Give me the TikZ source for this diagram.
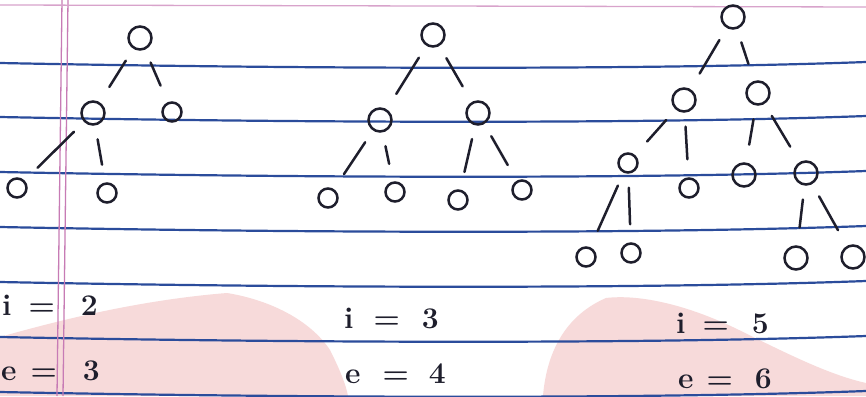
\documentclass[tikz,border=0pt]{standalone}
\usepackage{tikz}
\usetikzlibrary{calc}

\definecolor{ink}{HTML}{1E1E2C}
\definecolor{rule}{HTML}{2B4C9B}
\definecolor{margin}{HTML}{C77BB5}
\definecolor{blush}{HTML}{F7DADA}

\begin{document}
\begin{tikzpicture}[x=1pt,y=-1pt,
  nd/.style={draw=ink, circle, line width=2.5pt, minimum size=23pt, inner sep=0pt},
  lf/.style={nd, minimum size=19pt},
  edge/.style={draw=ink, line width=2.5pt, line cap=round, shorten <=14pt, shorten >=18pt},
  lbl/.style={text=ink, font=\fontsize{30}{30}\selectfont\bfseries, anchor=base west, inner sep=0pt}]
  \useasboundingbox (0,0) rectangle (866,396);
  \fill[white] (0,0) rectangle (866,396);

  \fill[blush] (0,396) -- (0,337) .. controls (60,320) and (140,300) .. (227,293)
    .. controls (270,300) and (310,320) .. (330,350) .. controls (340,370) and (346,385) .. (348,396) -- cycle;
  \fill[blush] (543,396) .. controls (546,360) and (560,318) .. (606,298)
    .. controls (640,294) and (690,305) .. (745,333) .. controls (790,355) and (830,375) .. (866,383) -- (866,396) -- cycle;

  \foreach \y in {63,117,172,227,282,337,392}
    \draw[rule, line width=2.2pt] (0,\y) .. controls (300,\y+6) and (650,\y+7) .. (866,\y-1);
  \draw[margin, line width=1.3pt] (62,0) -- (57,396);
  \draw[margin, line width=1.3pt] (68,0) -- (63,396);
  \draw[margin!70, line width=1.3pt] (0,5) -- (866,7);

  \node[nd] (a) at (140,38) {};
  \node[nd] (a1) at (93,113) {};
  \node[lf] (a2) at (172,112) {};
  \node[lf] (a11) at (17,188) {};
  \node[lf] (a12) at (107,193) {};
  \foreach \p/\c in {a/a1,a/a2,a1/a11,a1/a12}
    \draw[edge] (\p) -- (\c);

  \node[nd] (b) at (433,35) {};
  \node[nd] (b1) at (380,120) {};
  \node[nd] (b2) at (478,113) {};
  \node[lf] (b11) at (328,198) {};
  \node[lf] (b12) at (395,192) {};
  \node[lf] (b21) at (458,200) {};
  \node[lf] (b22) at (522,190) {};
  \foreach \p/\c in {b/b1,b/b2,b1/b11,b1/b12,b2/b21,b2/b22}
    \draw[edge] (\p) -- (\c);

  \node[nd] (c) at (733,17) {};
  \node[nd] (c1) at (684,100) {};
  \node[nd] (c2) at (758,93) {};
  \node[lf] (c11) at (628,163) {};
  \node[lf] (c12) at (689,188) {};
  \node[nd] (c21) at (744,175) {};
  \node[nd] (c22) at (806,173) {};
  \node[lf] (c111) at (586,257) {};
  \node[lf] (c112) at (631,253) {};
  \node[nd] (c221) at (796,258) {};
  \node[nd] (c222) at (853,257) {};
  \foreach \p/\c in {c/c1,c/c2,c1/c11,c1/c12,c2/c21,c2/c22,c11/c111,c11/c112,c22/c221,c22/c222}
    \draw[edge] (\p) -- (\c);

  \node[lbl] (i1) at (2,315) {i\hspace{17pt}=\hspace{26pt}2};
  \node[lbl] (e1) at (1,380) {e\hspace{14pt}=\hspace{26pt}3};
  \node[lbl] (i2) at (344,328) {i\hspace{20pt}=\hspace{22pt}3};
  \node[lbl] (e2) at (345,383) {e\hspace{22pt}=\hspace{20pt}4};
  \node[lbl] (i3) at (676,333) {i\hspace{17pt}=\hspace{23pt}5};
  \node[lbl] (e3) at (678,388) {e\hspace{13pt}=\hspace{22pt}6};
\end{tikzpicture}
\end{document}
